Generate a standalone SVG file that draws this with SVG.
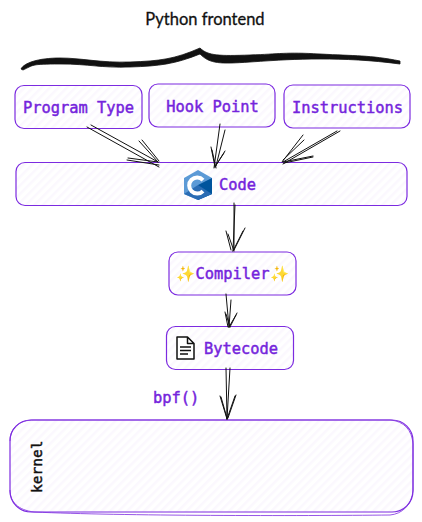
<svg xmlns="http://www.w3.org/2000/svg" width="422" height="522" viewBox="0 0 422 522">
<style>
.box{fill:url(#hatch);stroke:#7c2be0;stroke-width:1.200}
.t{font-family:"DejaVu Sans Mono","Liberation Mono",monospace;font-size:15.400px;font-weight:400;fill:#7424dc;stroke:#7424dc;stroke-width:.45px}
.c{fill:none;stroke:#111;stroke-width:1;stroke-linecap:round}
</style>
<defs>
<pattern id="hatch" width="6" height="6" patternUnits="userSpaceOnUse" patternTransform="rotate(-45)">
<rect width="6" height="6" fill="#fff"/><rect width="6" height="2.500" fill="#fbf8fe"/>
</pattern>
</defs>
<rect width="422" height="522" fill="#fff"/>
<g id="title">
<text x="205" y="25" text-anchor="middle" font-family="Lato,sans-serif" font-size="16.500" fill="#111" stroke="#111" stroke-width=".3">Python frontend</text>
<path d="M21 69C24 63 38 58 60 58S100 63 130 62S175 59 200 48C208 56 220 56 250 55S285 52 320 54S370 55 400 61L400 64C370 60 345 59 320 59S280 60 250 62S210 64 200 54C175 64 160 66 130 67S90 64 60 64S34 65 23 70Z" fill="#111" stroke="#111" stroke-width=".8" stroke-linejoin="round"/>
</g>
<g id="program-type"><rect class="box" x="15" y="85.500" width="127" height="43" rx="9"/><text class="t" x="78.500" y="113" text-anchor="middle">Program Type</text></g>
<g id="hook-point"><rect class="box" x="149" y="84" width="126" height="43" rx="9"/><text class="t" x="212.500" y="112" text-anchor="middle">Hook Point</text></g>
<g id="instructions"><rect class="box" x="284" y="85" width="126" height="43" rx="9"/><text class="t" x="347.500" y="113" text-anchor="middle">Instructions</text></g>
<g id="code">
<rect class="box" x="16" y="162.500" width="391" height="43" rx="9"/>
<path d="M198 170L212 178V194L198 200L184 194V178Z" fill="#5c9ad6"/>
<path d="M198 185L212 178V194L198 200Z" fill="#00549d"/>
<path d="M184 194L198 185L212 194L198 200Z" fill="#2a6cb4"/>
<path d="M203 180A8 8 0 1 0 203 191" fill="none" stroke="#fff" stroke-width="4"/>
<text class="t" x="219" y="190">Code</text>
</g>
<g id="compiler"><rect class="box" x="169" y="252" width="127" height="43" rx="9"/><text x="232.500" y="279" text-anchor="middle" class="t"><tspan fill="#fdc02f" stroke="none" font-family="'DejaVu Sans',sans-serif">✨</tspan>Compiler<tspan fill="#fdc02f" stroke="none" font-family="'DejaVu Sans',sans-serif">✨</tspan></text></g>
<g id="bytecode">
<rect class="box" x="166.500" y="326.500" width="127" height="43" rx="9"/>
<path d="M177 337H187.500L194 343.500V359H177ZM187.500 337V343.500H194" fill="#fff" stroke="#111" stroke-width="1.500" stroke-linejoin="round"/>
<path d="M180 347H191M180 350.500H191M180 354H188" stroke="#111" stroke-width="1.300"/>
<text class="t" x="204" y="354">Bytecode</text>
</g>
<g id="bpf-label"><text class="t" x="153" y="403">bpf()</text></g>
<g id="kernel">
<rect class="box" x="10" y="420" width="403" height="92" rx="21"/>
<path d="M10 441C10 427 20 420 34 420H390C404 421 412 430 413 444V490C412 505 402 514 390 515C300 516 120 516 34 512C18 510 10 502 10 490" fill="none" stroke="#7c2be0" stroke-width=".8"/>
<text x="42" y="493" transform="rotate(-90 42 493)" font-family="'DejaVu Sans Mono',monospace" font-size="14.500" fill="#111" stroke="#111" stroke-width=".45">kernel</text>
</g>
<g id="connectors" class="c">
<path class="c" d="M87 127L159 167M91 125L158 162"/>
<path class="c" d="M139 141L158 162M142 140L159 161M128 158L158 162M127 160L159 165"/>
<path class="c" d="M220 124L214 168M225 130L216 166"/>
<path class="c" d="M211 147L215 167M212 150L216 168M225 151L215 167M224 153L216 165"/>
<path class="c" d="M337 131L283 162M340 131L283 164"/>
<path class="c" d="M303 135L282 162M304 140L283 160M313 156L283 162M313 157L284 163"/>
<path class="c" d="M234 203L234 250M235 205L233 251"/>
<path class="c" d="M226 231L231 250M228 234L234 251M245 228L234 250M243 231L233 251"/>
<path class="c" d="M226 294L229 327M231 300L229 327"/>
<path class="c" d="M225 312L228 327M226 314L230 327M237 313L230 327M236 315L229 327"/>
<path class="c" d="M226 368L227 419M230 368L227 419"/>
<path class="c" d="M220 396L227 419M221 397L227 418M235 396L227 419M236 395L228 418"/>
</g>
</svg>
